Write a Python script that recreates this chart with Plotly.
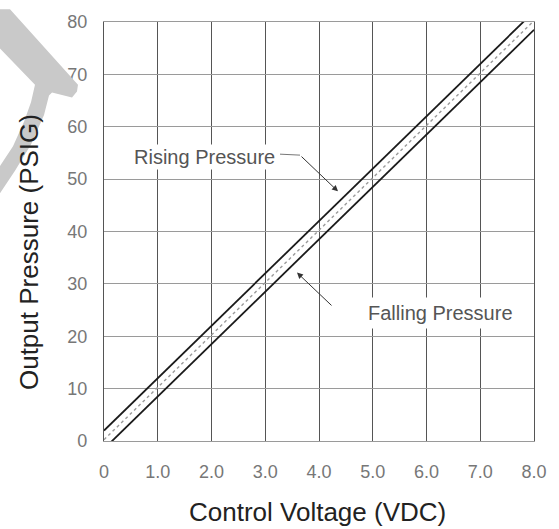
import plotly.graph_objects as go

# ---- data ----
voltage = [0.0, 8.0]
rising_pressure = [2.0, 82.0]
falling_pressure = [-1.5, 78.5]
mid_pressure = [0.25, 80.25]
x_ticks = [0, 1, 2, 3, 4, 5, 6, 7, 8]
x_tick_labels = ["0", "1.0", "2.0", "3.0", "4.0", "5.0", "6.0", "7.0", "8.0"]
y_ticks = [0, 10, 20, 30, 40, 50, 60, 70, 80]
y_tick_labels = ["0", "10", "20", "30", "40", "50", "60", "70", "80"]

W, H = 559, 529
L, R, T, B = 104, 25, 13, 88
PW, PH = W - L - R, H - T - B


def paper(X, Y):
    return (X - L) / PW, (H - B - Y) / PH


def data(X, Y):
    px, py = paper(X, Y)
    return px * 8, py * 80


FONT = "Liberation Sans, Arial, sans-serif"

fig = go.Figure()
fig.add_trace(go.Scatter(x=voltage, y=mid_pressure, mode="lines",
                         line=dict(color="#9a9a9a", width=1.4, dash="dot"),
                         hoverinfo="skip", showlegend=False))
fig.add_trace(go.Scatter(x=voltage, y=rising_pressure, mode="lines",
                         line=dict(color="#1a1a1a", width=1.8),
                         showlegend=False))
fig.add_trace(go.Scatter(x=voltage, y=falling_pressure, mode="lines",
                         line=dict(color="#1a1a1a", width=1.8),
                         showlegend=False))

# watermark swoosh (decoration)
wm_px = [(0, 0), (10, 0), (78, 77), (77, 84), (72, 90), (52, 85), (49, 88),
         (44, 108), (31, 138), (15, 165), (0, 188), (0, 160), (13, 140),
         (24, 115), (31, 95), (35, 77), (0, 40)]
pts = [paper(x, y) for x, y in wm_px]
path = "M " + " L ".join(f"{x:.4f},{y:.4f}" for x, y in pts) + " Z"
shapes = [dict(type="path", xref="paper", yref="paper", path=path,
               fillcolor="#c9c9c9", line=dict(width=0), layer="above")]

# leader horizontal segment for rising label
x0, y0 = data(280, 148)
x1, y1 = data(300, 149)
shapes.append(dict(type="line", xref="x", yref="y", x0=x0, y0=y0, x1=x1, y1=y1,
                   line=dict(color="#777777", width=1)))

annotations = []
# label texts
rx, ry = data(204, 151)
annotations.append(dict(x=rx, y=ry, xref="x", yref="y", text="Rising Pressure",
                        showarrow=False, bgcolor="white",
                        font=dict(family=FONT, size=20, color="#555555")))
fx, fy = data(440, 310)
annotations.append(dict(x=fx, y=fy, xref="x", yref="y", text="Falling Pressure",
                        showarrow=False, bgcolor="white", borderpad=4,
                        font=dict(family=FONT, size=20, color="#555555")))
# arrows
tx, ty = data(338, 186)
sx, sy = data(300, 149)
annotations.append(dict(x=tx, y=ty, ax=sx, ay=sy, xref="x", yref="y",
                        axref="x", ayref="y", text="", showarrow=True,
                        arrowhead=2, arrowsize=1.2, arrowwidth=1,
                        arrowcolor="#333333"))
tx, ty = data(297, 269)
sx, sy = data(333, 304)
annotations.append(dict(x=tx, y=ty, ax=sx, ay=sy, xref="x", yref="y",
                        axref="x", ayref="y", text="", showarrow=True,
                        arrowhead=2, arrowsize=1.2, arrowwidth=1,
                        arrowcolor="#333333"))
# axis titles
ax_, ay_ = paper(317, 514)
annotations.append(dict(x=ax_, y=ay_, xref="paper", yref="paper",
                        xanchor="center", yanchor="middle",
                        text="Control Voltage (VDC)", showarrow=False,
                        font=dict(family=FONT, size=26, color="#222222")))
ax_, ay_ = paper(29, 248)
annotations.append(dict(x=ax_, y=ay_, xref="paper", yref="paper",
                        xanchor="center", yanchor="middle",
                        text="Output Pressure (PSIG)", showarrow=False,
                        textangle=-90,
                        font=dict(family=FONT, size=26, color="#222222")))

fig.update_layout(
    width=W, height=H,
    margin=dict(l=L, r=R, t=T, b=B, pad=0),
    paper_bgcolor="white", plot_bgcolor="white",
    showlegend=False,
    shapes=shapes, annotations=annotations,
    xaxis=dict(range=[0, 8], tickvals=x_ticks, ticktext=x_tick_labels,
               showgrid=True, gridcolor="#555555", gridwidth=1.3,
               showline=True, linecolor="#9a9a9a", linewidth=1.3, mirror=True,
               zeroline=False, ticks="", ticklabelstandoff=14,
               tickfont=dict(family=FONT, size=18, color="#777777")),
    yaxis=dict(range=[0, 80], tickvals=y_ticks, ticktext=y_tick_labels,
               showgrid=True, gridcolor="#9a9a9a", gridwidth=1.3,
               showline=True, linecolor="#555555", linewidth=1.3, mirror=True,
               zeroline=False, ticks="", ticklabelstandoff=12,
               tickfont=dict(family=FONT, size=18, color="#777777")),
)

fig.write_html("out.html")
